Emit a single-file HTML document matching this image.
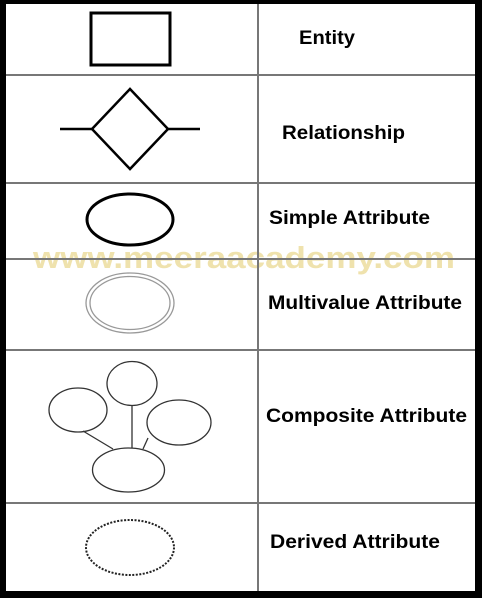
<!DOCTYPE html>
<html><head><style>
html,body{margin:0;padding:0;background:#fff;}
svg{display:block;}
text{font-family:"Liberation Sans",Arial,sans-serif;font-weight:bold;}
</style></head><body>
<svg width="482" height="598" viewBox="0 0 482 598" xmlns="http://www.w3.org/2000/svg">
<rect x="0" y="0" width="482" height="598" fill="#fff"/>
<text x="33" y="268" font-size="31" fill="#efe2ad" textLength="422" lengthAdjust="spacingAndGlyphs">www.meeraacademy.com</text>
<g stroke="#777" stroke-width="2">
<line x1="0" y1="75" x2="482" y2="75"/>
<line x1="0" y1="183" x2="482" y2="183"/>
<line x1="0" y1="259" x2="482" y2="259"/>
<line x1="0" y1="350" x2="482" y2="350"/>
<line x1="0" y1="503" x2="482" y2="503"/>
<line x1="258" y1="0" x2="258" y2="598"/>
</g>
<rect x="0" y="0" width="6" height="598" fill="#000"/>
<rect x="0" y="0" width="482" height="4" fill="#000"/>
<rect x="475" y="0" width="7" height="598" fill="#000"/>
<rect x="0" y="591" width="482" height="7" fill="#000"/>
<rect x="91" y="13" width="79" height="52" fill="none" stroke="#000" stroke-width="3"/>
<g stroke="#000" stroke-width="2.5" fill="none">
<polygon points="130,89 168,129 130,169 92,129"/>
<line x1="60" y1="129" x2="92" y2="129"/>
<line x1="168" y1="129" x2="200" y2="129"/>
</g>
<ellipse cx="130" cy="219.5" rx="43" ry="25.5" fill="none" stroke="#000" stroke-width="3"/>
<ellipse cx="130" cy="303" rx="44" ry="30" fill="none" stroke="#999" stroke-width="1.3"/>
<ellipse cx="130" cy="303" rx="40" ry="26.5" fill="none" stroke="#999" stroke-width="1.3"/>
<g stroke="#333" stroke-width="1.3" fill="none">
<ellipse cx="132" cy="383.5" rx="25" ry="22"/>
<ellipse cx="78" cy="410" rx="29" ry="22"/>
<ellipse cx="179" cy="422.5" rx="32" ry="22.5"/>
<ellipse cx="128.5" cy="470" rx="36" ry="22"/>
<line x1="83" y1="431" x2="113" y2="449"/>
<line x1="132" y1="405" x2="132" y2="448"/>
<line x1="148" y1="438" x2="143" y2="449"/>
</g>
<ellipse cx="130" cy="547.5" rx="44" ry="27.5" fill="none" stroke="#222" stroke-width="2" stroke-dasharray="2,1.5"/>
<g font-size="19" fill="#000">
<text x="299" y="44" textLength="56" lengthAdjust="spacingAndGlyphs">Entity</text>
<text x="282" y="139" textLength="123" lengthAdjust="spacingAndGlyphs">Relationship</text>
<text x="269" y="224" textLength="161" lengthAdjust="spacingAndGlyphs">Simple Attribute</text>
<text x="268" y="309" textLength="194" lengthAdjust="spacingAndGlyphs">Multivalue Attribute</text>
<text x="266" y="422" textLength="201" lengthAdjust="spacingAndGlyphs">Composite Attribute</text>
<text x="270" y="548" textLength="170" lengthAdjust="spacingAndGlyphs">Derived Attribute</text>
</g>
</svg>
</body></html>
